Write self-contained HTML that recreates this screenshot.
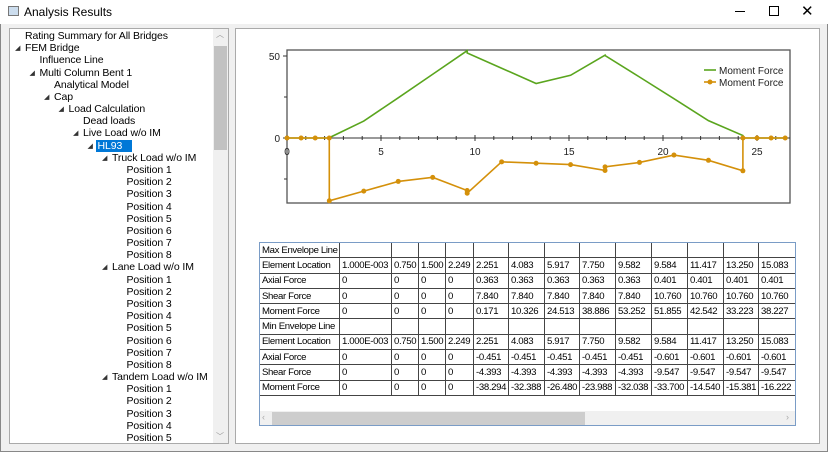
<!DOCTYPE html>
<html><head><meta charset="utf-8">
<style>
*{box-sizing:border-box;margin:0;padding:0}
body{width:828px;height:452px;overflow:hidden;background:#fff;font-family:"Liberation Sans",sans-serif;font-size:11px;color:#000;position:relative}
.abs{position:absolute}
#win{left:0;top:0;width:828px;height:452px;border:1px solid #888;border-top:none;background:#f0f0f0}
#titlebar{left:0;top:0;width:828px;height:24px;background:#fff}
#tree{left:9px;top:28px;width:220px;height:416px;border:1px solid #aaa;background:#fff;overflow:hidden}
.node{position:absolute;white-space:nowrap;font-size:10.5px;line-height:12px;letter-spacing:-0.1px}
.tri{position:absolute;font-size:7px;color:#333}
#right{left:235px;top:28px;width:585px;height:416px;border:1px solid #aaa;background:#fff}
table{border-collapse:collapse;position:absolute;left:259px;top:242px;table-layout:fixed}
td{border:1px solid #444;height:15.3px;padding:0 1px 0 2px;font-size:9.6px;letter-spacing:-0.35px;white-space:nowrap;overflow:hidden;line-height:13px}
</style></head><body>
<div id="win" class="abs"></div>
<div id="titlebar" class="abs">
 <div class="abs" style="left:8px;top:6px;width:11px;height:10px;border:1px solid #777;background:#cde"></div>
 <div class="abs" style="left:24px;top:5px;font-size:12px">Analysis Results</div>
 <div class="abs" style="left:735px;top:11px;width:10px;height:1px;background:#000"></div>
 <div class="abs" style="left:769px;top:6px;width:10px;height:10px;border:1px solid #000"></div>
 <div class="abs" style="left:801px;top:2px;font-size:15px">✕</div>
</div>
<div id="tree" class="abs">
 <div class="abs" style="left:203px;top:0;width:15px;height:414px;background:#f0f0f0">
  <div class="abs" style="left:1px;top:17px;width:13px;height:104px;background:#c2c2c2"></div>
  <div class="abs" style="left:3px;top:0;font-size:8px;color:#999">︿</div>
  <div class="abs" style="left:3px;top:402px;font-size:8px;color:#999">﹀</div>
 </div>
 <div id="nodes"></div>
</div>
<div id="right" class="abs"></div>
<svg class="abs" style="left:0;top:0" width="828" height="452" id="chart"></svg>
<table id="tbl"></table>
<div class="abs" style="left:260px;top:411px;width:535px;height:15px;background:#f0f0f0">
 <div class="abs" style="left:12px;top:1px;width:313px;height:13px;background:#cdcdcd"></div>
 <div class="abs" style="left:2px;top:1px;font-size:9px;color:#aaa">‹</div>
 <div class="abs" style="left:526px;top:1px;font-size:9px;color:#aaa">›</div>
</div>
<script>
const treeNodes=[["Rating Summary for All Bridges",0,0],["FEM Bridge",0,1],["Influence Line",1,0],["Multi Column Bent 1",1,1],["Analytical Model",2,0],["Cap",2,1],["Load Calculation",3,1],["Dead loads",4,0],["Live Load w/o IM",4,1],["HL93",5,1],["Truck Load w/o IM",6,1],["Position 1",7,0],["Position 2",7,0],["Position 3",7,0],["Position 4",7,0],["Position 5",7,0],["Position 6",7,0],["Position 7",7,0],["Position 8",7,0],["Lane Load w/o IM",6,1],["Position 1",7,0],["Position 2",7,0],["Position 3",7,0],["Position 4",7,0],["Position 5",7,0],["Position 6",7,0],["Position 7",7,0],["Position 8",7,0],["Tandem Load w/o IM",6,1],["Position 1",7,0],["Position 2",7,0],["Position 3",7,0],["Position 4",7,0],["Position 5",7,0]];
const nodesEl=document.getElementById('nodes');
treeNodes.forEach((n,i)=>{
 const d=document.createElement('div');d.className='node';
 
 
 const x=15+14.5*n[1], y=1+12.18*i;
 d.style.left=x+'px';d.style.top=y+'px';d.textContent=n[0];
 if(n[0]==='HL93'){d.style.background='#0078d7';d.style.color='#fff';d.style.padding='0 2px';d.style.left=(x-2)+'px';d.style.width='36px'}
 nodesEl.appendChild(d);
 if(n[2]){const t=document.createElement('div');t.className='tri';
  
  
  t.style.left=(x-10)+'px';t.style.top=(y+2)+'px';t.textContent='◢';nodesEl.appendChild(t);}
});
// chart data
const maxX=[0.001,0.75,1.5,2.249,2.251,4.083,5.917,7.75,9.582,9.584,11.417,13.25,15.083,16.916,16.918,18.75,20.583,22.417,24.249,24.251,25,25.75,26.5];
const maxY=[0,0,0,0,0.171,10.326,24.513,38.886,53.252,51.855,42.542,33.223,38.227,50.5,50.3,37.2,24,10.6,1.5,0,0,0,0];
const minX=[0.001,0.75,1.5,2.249,2.251,4.083,5.917,7.75,9.582,9.584,11.417,13.25,15.083,16.916,16.918,18.75,20.583,22.417,24.249,24.251,25,25.75,26.5];
const minY=[0,0,0,0,-38.294,-32.388,-26.48,-23.988,-32.038,-33.7,-14.54,-15.381,-16.222,-19.8,-17.6,-14.9,-10.4,-13.6,-20,0,0,0,0];
const xTicks=[0,5,10,15,20,25];
const yTicks=[0,50];
const sx=v=>287+v*18.8, sy=v=>138-v*1.64;
const svg=document.getElementById('chart');const NS='http://www.w3.org/2000/svg';
function el(tag,attrs,name){const e=document.createElementNS(NS,tag);for(const k in attrs)e.setAttribute(k,attrs[k]);
 
 
 svg.appendChild(e);return e;}
el('rect',{x:287,y:50,width:503,height:153,fill:'none',stroke:'#555','stroke-width':1.3},'plot-frame');
el('line',{x1:287,y1:sy(0),x2:790,y2:sy(0),stroke:'#333'},'x-axis');
for(let v=0;v<=26.5;v+=1){el('line',{x1:sx(v),y1:sy(0)-(v%5?2:3),x2:sx(v),y2:sy(0)+(v%5?2:3),stroke:'#333'},'x-tick');}
xTicks.forEach(v=>{const t=el('text',{x:sx(v),y:sy(0)+17,'font-size':10,'text-anchor':'middle',fill:'#222'},'x-tick-label');t.textContent=v;});
yTicks.forEach(v=>{el('line',{x1:283,y1:sy(v),x2:287,y2:sy(v),stroke:'#333'},'y-tick');const t=el('text',{x:280,y:sy(v)+4,'font-size':10,'text-anchor':'end',fill:'#222'},'y-tick-label');t.textContent=v;});
[25,-25].forEach(v=>el('line',{x1:284,y1:sy(v),x2:287,y2:sy(v),stroke:'#333'},'y-minor-tick'));
el('polyline',{points:maxX.map((x,i)=>sx(x)+','+sy(maxY[i])).join(' '),fill:'none',stroke:'#5aa51e','stroke-width':1.6},'max-moment-line');
el('polyline',{points:minX.map((x,i)=>sx(x)+','+sy(minY[i])).join(' '),fill:'none',stroke:'#d4900a','stroke-width':1.6},'min-moment-line');
minX.forEach((x,i)=>el('circle',{cx:sx(x),cy:sy(minY[i]),r:2.5,fill:'#d4900a'},'min-moment-point'));
el('line',{x1:704,y1:70,x2:716,y2:70,stroke:'#5aa51e','stroke-width':1.6},'legend-max-swatch');
let t=el('text',{x:719,y:74,'font-size':10,fill:'#222'},'legend-max-label');t.textContent='Moment Force';
el('line',{x1:704,y1:82,x2:716,y2:82,stroke:'#d4900a','stroke-width':1.6},'legend-min-swatch');
el('circle',{cx:710,cy:82,r:2.5,fill:'#d4900a'},'legend-min-marker');
t=el('text',{x:719,y:86,'font-size':10,fill:'#222'},'legend-min-label');t.textContent='Moment Force';
// table
const colW=[80,52,27,27,28,35,36,35,36,36,36,36,35,37];
const loc=["1.000E-003","0.750","1.500","2.249","2.251","4.083","5.917","7.750","9.582","9.584","11.417","13.250","15.083"];
const rows=[["Max Envelope Line"],["Element Location",...loc],["Axial Force","0","0","0","0","0.363","0.363","0.363","0.363","0.363","0.401","0.401","0.401","0.401"],["Shear Force","0","0","0","0","7.840","7.840","7.840","7.840","7.840","10.760","10.760","10.760","10.760"],["Moment Force","0","0","0","0","0.171","10.326","24.513","38.886","53.252","51.855","42.542","33.223","38.227"],["Min Envelope Line"],["Element Location",...loc],["Axial Force","0","0","0","0","-0.451","-0.451","-0.451","-0.451","-0.451","-0.601","-0.601","-0.601","-0.601"],["Shear Force","0","0","0","0","-4.393","-4.393","-4.393","-4.393","-4.393","-9.547","-9.547","-9.547","-9.547"],["Moment Force","0","0","0","0","-38.294","-32.388","-26.480","-23.988","-32.038","-33.700","-14.540","-15.381","-16.222"]];
const tbl=document.getElementById('tbl');
const cg=document.createElement('colgroup');colW.forEach(w=>{const c=document.createElement('col');c.style.width=w+'px';cg.appendChild(c)});tbl.appendChild(cg);
tbl.style.width=colW.reduce((a,b)=>a+b,0)+'px';
rows.forEach(r=>{const tr=document.createElement('tr');
 
 
 for(let i=0;i<colW.length;i++){const td=document.createElement('td');td.textContent=r[i]||'';tr.appendChild(td);}
 tbl.appendChild(tr);});
</script>
<div class="abs" style="left:259px;top:242px;width:537px;height:184px;border:1px solid #7a9cc6;pointer-events:none"></div>
<div class="abs" style="left:796px;top:242px;width:22px;height:170px;background:#fff"></div>
</body></html>
